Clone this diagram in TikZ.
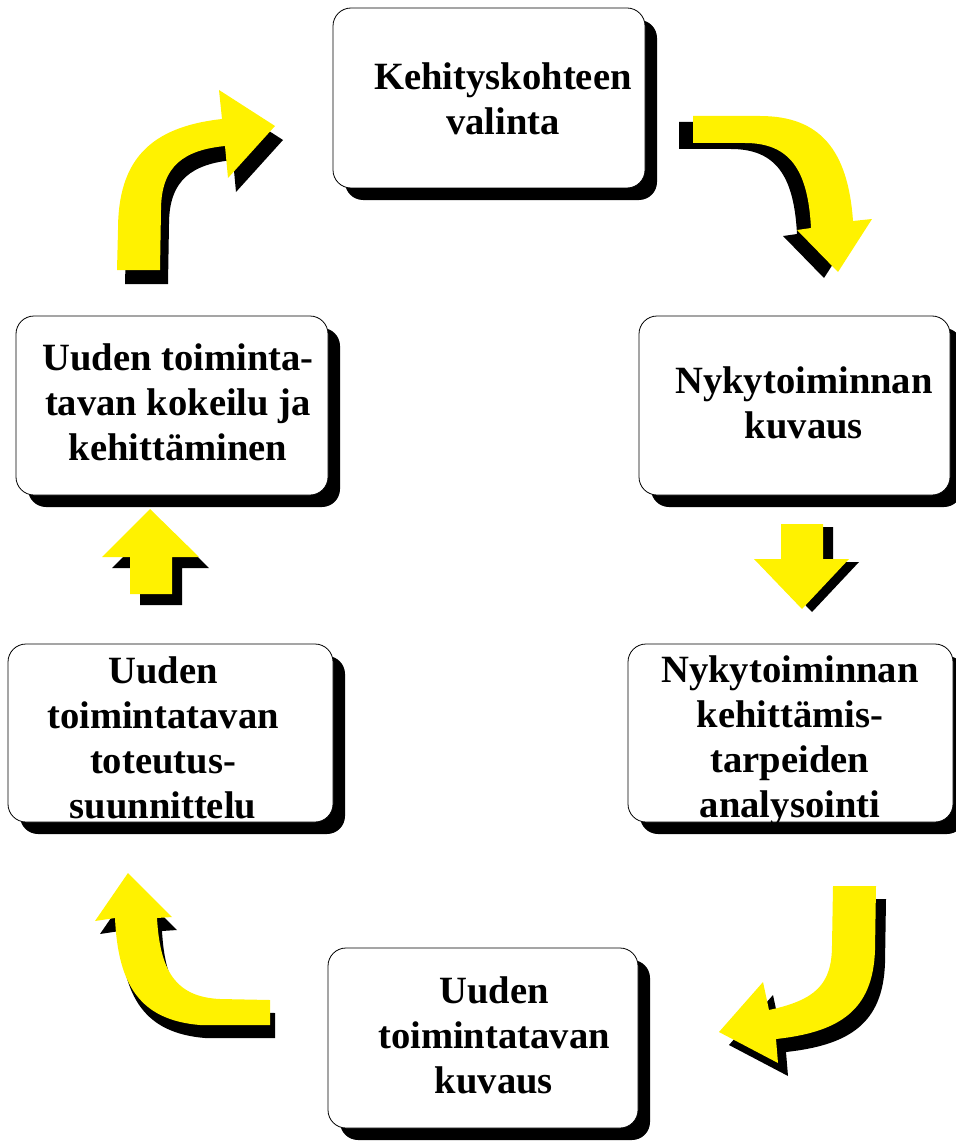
\documentclass[tikz,border=0pt]{standalone}
\usepackage{fontspec}
\setmainfont{Liberation Serif}
\begin{document}
\begin{tikzpicture}[x=1pt,y=-1pt,
  boxface/.style={fill=white,draw=black,line width=0.8pt,rounded corners=18pt,
    minimum width=#1,minimum height=180pt,inner sep=0pt},
  boxface/.default=312pt,
  boxshadow/.style={fill=black,rounded corners=18pt},
  label/.style={align=center,inner sep=0pt,
    font=\fontsize{38.6}{45}\selectfont\bfseries},
  arrowface/.style={fill=yellow},
  arrowshadow/.style={fill=black}]
\useasboundingbox (0,0) rectangle (955,1142);

% block arrow outlines
\def\ArrowUpRight{(117,270) -- (118,230) .. controls (118,160) and (150,127) .. (222,119)
  -- (219,90) -- (275,126) -- (228,178) -- (225,146)
  .. controls (185,150) and (161,165) .. (161,210) -- (160,270) -- cycle}
\def\ArrowRightDown{(693,116) -- (760,116) .. controls (820,116) and (848,150) .. (853,221)
  -- (872,219) -- (838,272) -- (797,230) -- (811,228)
  .. controls (808,170) and (790,143) .. (745,143) -- (693,143) -- cycle}
\def\ArrowDown{(781,524) -- (823,524) -- (823,559) -- (849,559) -- (802,609)
  -- (754,559) -- (781,559) -- cycle}
\def\ArrowDownLeft{(833,886) -- (876,886) -- (875,950)
  .. controls (873,1010) and (840,1032) .. (776,1039)
  -- (778,1063) -- (719,1032) -- (763,982) -- (769,1010)
  .. controls (815,1000) and (832,985) .. (832,945) -- cycle}
\def\ArrowLeftUp{(270,1000) -- (270,1025) -- (200,1025)
  .. controls (140,1020) and (118,985) .. (115,918)
  -- (95,921) -- (128,873) -- (172,917) -- (157,918)
  .. controls (160,970) and (175,997) .. (220,999) -- cycle}
\def\ArrowUp{(130,594) -- (130,557) -- (102,557) -- (150,509) -- (199,557)
  -- (172,557) -- (172,594) -- cycle}

% box shadows
\fill[boxshadow] (345,20) rectangle (657,200);
\fill[boxshadow] (651,328) rectangle (962,507);
\fill[boxshadow] (640,656) rectangle (965,834);
\fill[boxshadow] (340,960) rectangle (650,1140);
\fill[boxshadow] (20,656) rectangle (345,834);
\fill[boxshadow] (28,328) rectangle (340,507);

% boxes
\node[boxface] (b1) at (489,98) {};
\node[boxface=311pt,minimum height=179pt] (b2) at (794.5,405.5) {};
\node[boxface=325pt,minimum height=178pt] (b3) at (790.5,733) {};
\node[boxface=310pt] (b4) at (483,1038) {};
\node[boxface=325pt,minimum height=178pt] (b5) at (170.5,733) {};
\node[boxface,minimum height=179pt] (b6) at (172,405.5) {};

% labels
\node[label] (t1) at (503,99) {Kehityskohteen\\valinta};
\node[label] (t2) at (804,403) {Nykytoiminnan\\kuvaus};
\node[label] (t3) at (790,741) {Nykytoiminnan\\kehittämis-\\tarpeiden\\analysointi};
\node[label] (t4) at (494,1035) {Uuden\\toimintatavan\\kuvaus};
\node[label] (t5) at (163,738) {Uuden\\toimintatavan\\toteutus-\\suunnittelu};
\node[label] (t6) at (178,402) {Uuden toiminta-\\tavan kokeilu ja\\kehittäminen};

% arrows between the steps, each with its drop shadow
\fill[arrowshadow,shift={(8,14)}] \ArrowUpRight;
\fill[arrowface] \ArrowUpRight;
\fill[arrowshadow,shift={(-14,6)}] \ArrowRightDown;
\fill[arrowface] \ArrowRightDown;
\fill[arrowshadow,shift={(10,3)}] \ArrowDown;
\fill[arrowface] \ArrowDown;
\fill[arrowshadow,shift={(10,13)}] \ArrowDownLeft;
\fill[arrowface] \ArrowDownLeft;
\fill[arrowshadow,shift={(5,13)}] \ArrowLeftUp;
\fill[arrowface] \ArrowLeftUp;
\fill[arrowshadow,shift={(10,11)}] \ArrowUp;
\fill[arrowface] \ArrowUp;
\end{tikzpicture}
\end{document}
